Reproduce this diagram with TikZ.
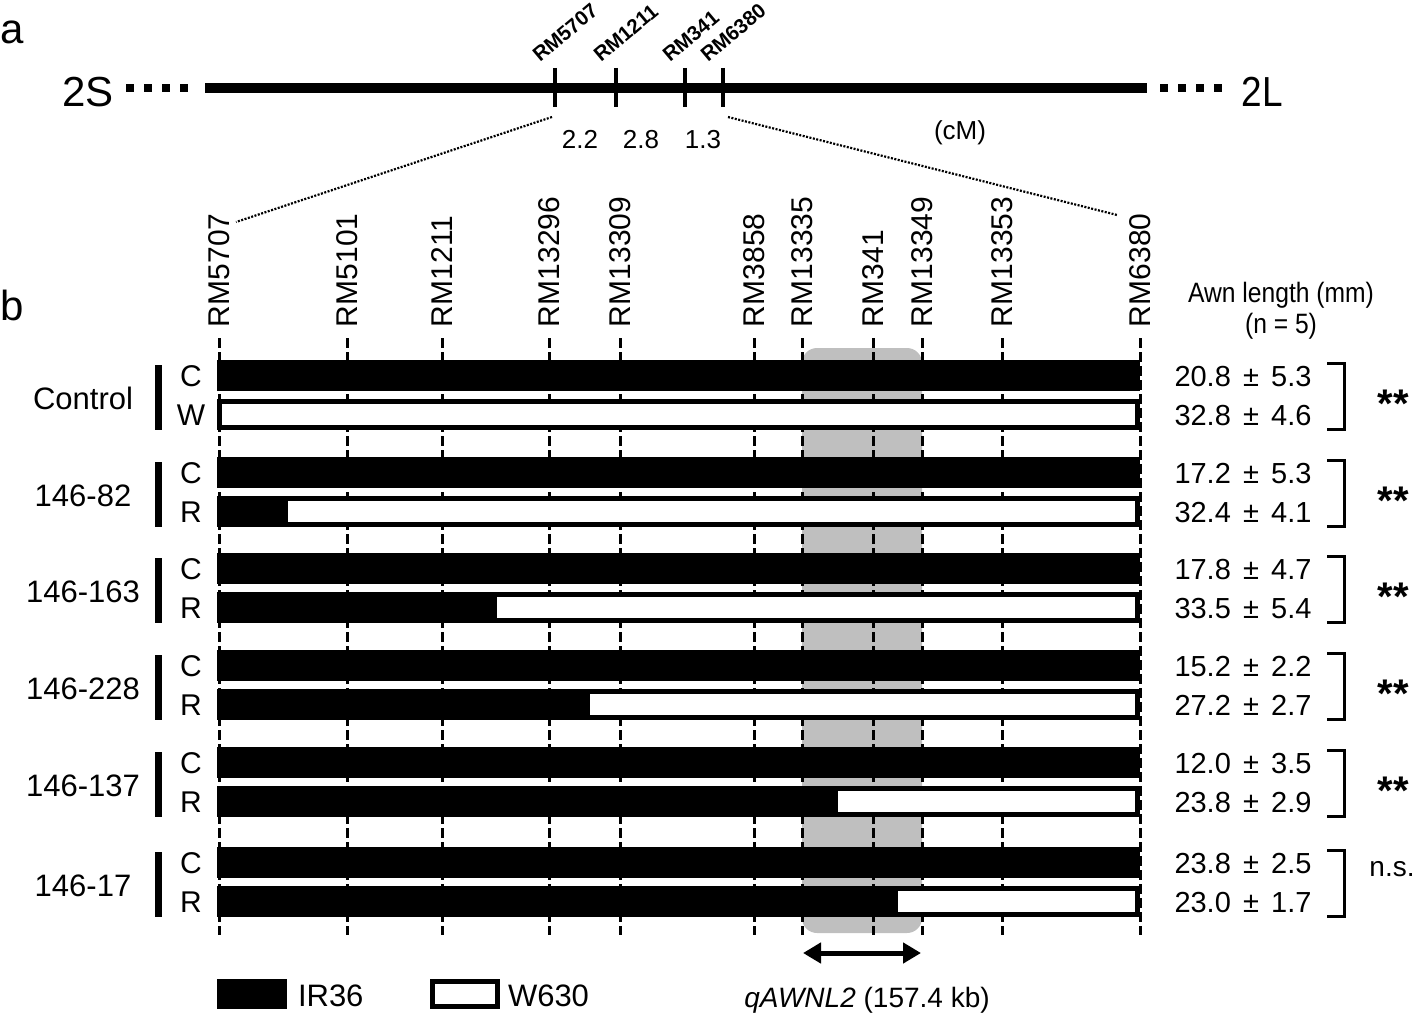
\documentclass[tikz,border=0pt]{standalone}
\usepackage{fontspec}
\setmainfont{Liberation Sans}
\newfontfamily\narrowf[FakeStretch=0.88]{Liberation Sans}
\usetikzlibrary{arrows.meta}
\newcommand\fsz[1]{\fontsize{#1}{#1}\selectfont}
\newcommand\pmsp{\hspace{0.42em}±\hspace{0.42em}}
\begin{document}
\begin{tikzpicture}[x=1pt,y=-1pt,
  txt/.style={inner sep=0pt,outer sep=0pt},
  tickline/.style={line width=3.5pt},
  chromdots/.style={line width=8pt,dash pattern=on 8pt off 10pt},
  zoomline/.style={line width=2.2pt,dash pattern=on 2pt off 1.5pt},
  markerline/.style={line width=3pt,dash pattern=on 10pt off 4pt},
  bracketline/.style={line width=3pt},
  topmark/.style={txt,font=\bfseries\fsz{20.5},rotate=40,anchor=base west},
  botmark/.style={txt,font=\fsz{30},rotate=90,anchor=west,text depth=0pt},
  qtl/.style={{Triangle[length=18pt,width=20pt]}-{Triangle[length=18pt,width=20pt]},line width=5pt}
]
\useasboundingbox (0,0) rectangle (1418,1014);
% ---------------- panel a ----------------
\node[txt,anchor=base west,font=\fsz{42}] (pa) at (0,44) {a};
\node[txt,anchor=base,font=\fsz{42}] (s2S) at (88,107) {2S};
\node[txt,anchor=base,font=\narrowf\fsz{42}] (s2L) at (1262,107) {2L};
\draw[chromdots] (126,88) -- (190,88);
\draw[chromdots] (1160,88) -- (1224,88);
\draw[line width=10pt] (205,88) -- (1147,88);
\foreach \x/\nm [count=\i] in {555/RM5707,616/RM1211,685/RM341,723/RM6380}{
  \coordinate (tt\i) at (\x,68);
  \coordinate (tb\i) at (\x,107);
  \draw[tickline] (tt\i) -- (tb\i);
  \node[topmark] (tm\i) at (\x-15,63) {\nm};
}
\node[txt,anchor=base,font=\fsz{26}] (d1) at (580,149) {2.2};
\node[txt,anchor=base,font=\fsz{26}] (d2) at (641,149) {2.8};
\node[txt,anchor=base,font=\fsz{26}] (d3) at (703,149) {1.3};
\node[txt,font=\fsz{26}] (cm) at (960,133) {(cM)};
\coordinate (zl1) at (552,117);
\coordinate (zl2) at (236,222);
\coordinate (zr1) at (728,117);
\coordinate (zr2) at (1117,215);
\draw[zoomline] (zl1) -- (zl2);
\draw[zoomline] (zr1) -- (zr2);
% ---------------- panel b ----------------
\node[txt,anchor=base west,font=\fsz{42}] (pb) at (1,320) {b};
\fill[black!25,rounded corners=15pt] (802,348) rectangle (922,933);
\foreach \x/\nm [count=\i] in {219/RM5707,347/RM5101,442/RM1211,549/RM13296,620/RM13309,754/RM3858,802/RM13335,873/RM341,922/RM13349,1002/RM13353,1140/RM6380}{
  \node[botmark] (bm\i) at (\x,327) {\nm};
  \coordinate (ml\i) at (\x,338);
  \coordinate (mb\i) at (\x,935);
  \draw[markerline] (ml\i) -- (mb\i);
}
\node[txt,font=\narrowf\fsz{28}] (awn) at (1281,295) {Awn length (mm)};
\node[txt,font=\narrowf\fsz{28}] (nn) at (1281,326) {(n = 5)};
\foreach \ct/\sp/\lab/\rl/\va/\vb/\vc/\vd [count=\i] in {
  360/222/Control/W/20.8/5.3/32.8/4.6,
  457/288/146-82/R/17.2/5.3/32.4/4.1,
  553/497/146-163/R/17.8/4.7/33.5/5.4,
  650/590/146-228/R/15.2/2.2/27.2/2.7,
  747/838/146-137/R/12.0/3.5/23.8/2.9,
  847/898/146-17/R/23.8/2.5/23.0/1.7}{
  \fill (217,\ct) rectangle (1140,\ct+31);
  \fill (217,\ct+39) rectangle (1140,\ct+70);
  \fill[white] (\sp,\ct+44) rectangle (1135,\ct+65);
  \node[txt,anchor=base,font=\fsz{31}] (g\i) at (83,\ct+49) {\lab};
  \draw[line width=7pt] (158,\ct+5) -- (158,\ct+70);
  \node[txt,anchor=base,font=\fsz{30}] (c\i) at (191,\ct+26.5) {C};
  \node[txt,anchor=base,font=\fsz{30}] (r\i) at (191,\ct+65.5) {\rl};
  \node[txt,anchor=base,font=\fsz{29}] (va\i) at (1243,\ct+26) {\va\pmsp\vb};
  \node[txt,anchor=base,font=\fsz{29}] (vb\i) at (1243,\ct+65) {\vc\pmsp\vd};
  \draw[bracketline] (1327,\ct+3) -- (1344,\ct+3) -- (1344,\ct+69) -- (1327,\ct+69);
}
\foreach \ct [count=\i] in {360,457,553,650,747}{
  \node[txt,anchor=base,font=\bfseries\fsz{40}] (st\i) at (1393,\ct+57) {**};
}
\node[txt,anchor=base,font=\fsz{28}] (ns) at (1392,876) {n.s.};
% qtl arrow
\coordinate (qL) at (803,953);
\coordinate (qR) at (921,953);
\draw[qtl] (qL) -- (qR);
\node[txt,font=\fsz{28}] (qn) at (867,1000) {\textit{qAWNL2} (157.4 kb)};
% legend
\fill (217,979) rectangle (287,1009);
\node[txt,anchor=base west,font=\fsz{31}] (lir) at (298,1006) {IR36};
\draw[line width=5pt,fill=white] (432.5,981.5) rectangle (497.5,1006.5);
\node[txt,anchor=base west,font=\fsz{31}] (lw) at (508,1006) {W630};
\end{tikzpicture}
\end{document}
